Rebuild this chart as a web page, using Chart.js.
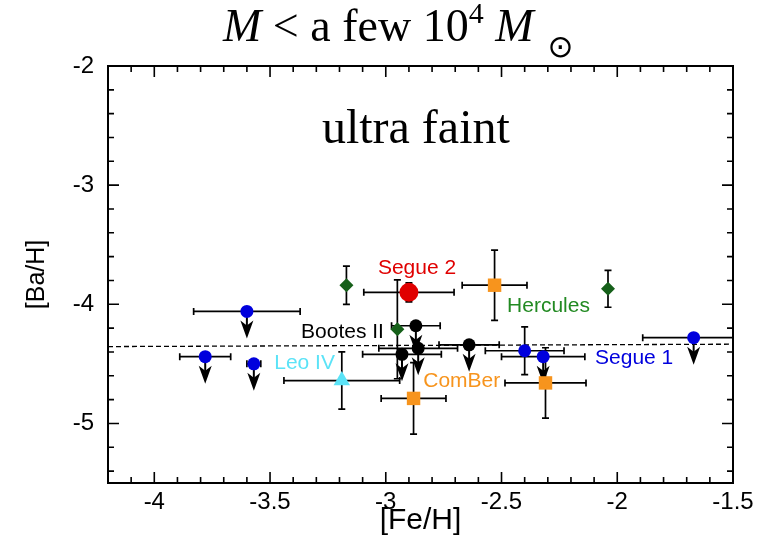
<!DOCTYPE html>
<html lang="en">
<head>
<meta charset="UTF-8">
<title>[Ba/H] vs [Fe/H] - ultra faint</title>
<script src="https://cdn.jsdelivr.net/npm/chart.js@4.4.1/dist/chart.umd.min.js"></script>
<style>
  html, body { margin: 0; padding: 0; background: #fff; }
</style>
</head>
<body>
<canvas id="baChart" width="761" height="541"></canvas>
<script>
// values: [Fe/H], [Ba/H], errors, upper limits
const segue1Fe    = [-3.60, -3.78, -3.57, -2.40, -2.32, -1.67];
const segue1Ba    = [-4.06, -4.44, -4.50, -4.39, -4.44, -4.28];
const segue1FeErr = [0.23, 0.11, 0.03, 0.17, 0.18, 0.22];
const segue1BaErr = [0, 0, 0, 0.20, 0, 0];
const segue1Limit = [true, true, true, false, true, true];

const bootesFe    = [-2.87, -2.86, -2.93, -2.64];
const bootesBa    = [-4.18, -4.37, -4.42, -4.34];
const bootesFeErr = [0.105, 0.17, 0.17, 0.13];
const bootesBaErr = [0, 0, 0, 0];
const bootesLimit = [true, true, true, true];

const segue2Fe    = [-2.90];
const segue2Ba    = [-3.90];
const segue2FeErr = [0.195];
const segue2BaErr = [0.08];
const segue2Limit = [false];

const herculesFe    = [-3.17, -2.04, -2.95];
const herculesBa    = [-3.84, -3.87, -4.21];
const herculesFeErr = [0, 0, 0];
const herculesBaErr = [0.16, 0.155, 0.415];
const herculesLimit = [false, false, false];

const comberFe    = [-2.53, -2.88, -2.31];
const comberBa    = [-3.84, -4.79, -4.66];
const comberFeErr = [0.14, 0.14, 0.175];
const comberBaErr = [0.295, 0.30, 0.295];
const comberLimit = [false, false, false];

const leo4Fe    = [-3.19];
const leo4Ba    = [-4.64];
const leo4FeErr = [0.25];
const leo4BaErr = [0.24];
const leo4Limit = [false];

// dashed reference line (two ends)
const refLineFe = [-4.2, -1.5];
const refLineBa = [-4.355, -4.335];

const xTickValues = [-4, -3.5, -3, -2.5, -2, -1.5];
const xTickLabels = ['-4', '-3.5', '-3', '-2.5', '-2', '-1.5'];
const yTickValues = [-5, -4, -3, -2];
const yTickLabels = ['-5', '-4', '-3', '-2'];

// ---------------------------------------------------------------
const groups = [
  { name: 'Segue 1',   fe: segue1Fe,   ba: segue1Ba,   fx: segue1FeErr,   fy: segue1BaErr,   lim: segue1Limit,
    color: '#0000dd', style: 'circle', r: 6.5 },
  { name: 'Bootes II', fe: bootesFe,   ba: bootesBa,   fx: bootesFeErr,   fy: bootesBaErr,   lim: bootesLimit,
    color: '#000000', style: 'circle', r: 6.5 },
  { name: 'Segue 2',   fe: segue2Fe,   ba: segue2Ba,   fx: segue2FeErr,   fy: segue2BaErr,   lim: segue2Limit,
    color: '#e00000', style: 'circle', r: 9.5 },
  { name: 'Hercules',  fe: herculesFe, ba: herculesBa, fx: herculesFeErr, fy: herculesBaErr, lim: herculesLimit,
    color: '#16601a', style: 'rectRot', r: 7 },
  { name: 'ComBer',    fe: comberFe,   ba: comberBa,   fx: comberFeErr,   fy: comberBaErr,   lim: comberLimit,
    color: '#f7941d', style: 'rect', r: 9.5 },
  { name: 'Leo IV',    fe: leo4Fe,     ba: leo4Ba,     fx: leo4FeErr,     fy: leo4BaErr,     lim: leo4Limit,
    color: '#5be3f7', style: 'triangle', r: 9.5 }
];

// text labels in data coordinates (left edge, vertical middle)
const labels = [
  { text: 'Segue 2',   x: -3.034, y: -3.694, color: '#e00000' },
  { text: 'Hercules',  x: -2.476, y: -4.015, color: '#228a22' },
  { text: 'Bootes II', x: -3.366, y: -4.231, color: '#000000' },
  { text: 'Leo IV',    x: -3.482, y: -4.496, color: '#5be3f7' },
  { text: 'ComBer',    x: -2.838, y: -4.645, color: '#f7941d' },
  { text: 'Segue 1',   x: -2.096, y: -4.454, color: '#0000dd' }
];

const SANS = '"Liberation Sans", Arial, sans-serif';
const SERIF = '"Liberation Serif", "Times New Roman", serif';

const errorBars = {
  id: 'errorBars',
  beforeDatasetsDraw(chart) {
    const { ctx, chartArea: a, scales: { x, y } } = chart;
    ctx.save();
    ctx.beginPath();
    ctx.rect(a.left, a.top, a.right - a.left, a.bottom - a.top);
    ctx.clip();

    // dashed line
    ctx.strokeStyle = '#000';
    ctx.lineWidth = 1.3;
    ctx.setLineDash([5, 3]);
    ctx.beginPath();
    ctx.moveTo(x.getPixelForValue(refLineFe[0]), y.getPixelForValue(refLineBa[0]));
    ctx.lineTo(x.getPixelForValue(refLineFe[1]), y.getPixelForValue(refLineBa[1]));
    ctx.stroke();
    ctx.setLineDash([]);

    ctx.lineWidth = 1.7;
    const cap = 3.5;
    groups.forEach(g => {
      g.fe.forEach((fe, i) => {
        const px = x.getPixelForValue(fe);
        const py = y.getPixelForValue(g.ba[i]);
        if (g.fx[i] > 0) {
          const x0 = x.getPixelForValue(fe - g.fx[i]);
          const x1 = x.getPixelForValue(fe + g.fx[i]);
          ctx.beginPath();
          ctx.moveTo(x0, py); ctx.lineTo(x1, py);
          ctx.moveTo(x0, py - cap); ctx.lineTo(x0, py + cap);
          ctx.moveTo(x1, py - cap); ctx.lineTo(x1, py + cap);
          ctx.stroke();
        }
        if (g.fy[i] > 0) {
          const y0 = y.getPixelForValue(g.ba[i] + g.fy[i]);
          const y1 = y.getPixelForValue(g.ba[i] - g.fy[i]);
          ctx.beginPath();
          ctx.moveTo(px, y0); ctx.lineTo(px, y1);
          ctx.moveTo(px - cap, y0); ctx.lineTo(px + cap, y0);
          ctx.moveTo(px - cap, y1); ctx.lineTo(px + cap, y1);
          ctx.stroke();
        }
        if (g.lim[i]) {
          // upper limit arrow
          ctx.lineWidth = 2;
          ctx.beginPath();
          ctx.moveTo(px, py); ctx.lineTo(px, py + 16);
          ctx.stroke();
          ctx.lineWidth = 1.7;
          ctx.fillStyle = '#000';
          ctx.beginPath();
          ctx.moveTo(px, py + 27);
          ctx.lineTo(px - 6.5, py + 9);
          ctx.lineTo(px, py + 14);
          ctx.lineTo(px + 6.5, py + 9);
          ctx.closePath();
          ctx.fill();
        }
      });
    });
    ctx.restore();
  },
  afterDatasetsDraw(chart) {
    const { ctx, scales: { x, y } } = chart;
    ctx.save();
    ctx.font = '21px ' + SANS;
    ctx.textBaseline = 'middle';
    ctx.textAlign = 'left';
    labels.forEach(l => {
      ctx.fillStyle = l.color;
      ctx.fillText(l.text, x.getPixelForValue(l.x), y.getPixelForValue(l.y));
    });
    ctx.fillStyle = '#000';
    ctx.font = '48px ' + SERIF;
    ctx.textAlign = 'center';
    ctx.textBaseline = 'alphabetic';
    ctx.fillText('ultra faint', x.getPixelForValue(-2.87), y.getPixelForValue(-2.647));
    ctx.restore();
  }
};

const frame = {
  id: 'frame',
  afterDraw(chart) {
    const { ctx, chartArea: a, scales: { x, y } } = chart;
    ctx.save();
    ctx.strokeStyle = '#000';
    ctx.lineWidth = 1.6;
    ctx.beginPath();
    for (let k = -41; k <= -16; k++) {
      const px = x.getPixelForValue(k / 10);
      const len = k % 5 === 0 ? 11 : 6;
      ctx.moveTo(px, a.bottom); ctx.lineTo(px, a.bottom - len);
      ctx.moveTo(px, a.top); ctx.lineTo(px, a.top + len);
    }
    for (let k = -54; k <= -22; k += 2) {
      const py = y.getPixelForValue(k / 10);
      const len = k % 10 === 0 ? 11 : 6;
      ctx.moveTo(a.left, py); ctx.lineTo(a.left + len, py);
      ctx.moveTo(a.right, py); ctx.lineTo(a.right - len, py);
    }
    ctx.stroke();
    ctx.lineWidth = 2;
    ctx.strokeRect(a.left, a.top, a.right - a.left, a.bottom - a.top);

    // title: M < a few 10^4 M_sun
    let tx = 223;
    const base = 41;
    ctx.fillStyle = '#000';
    ctx.textAlign = 'left';
    ctx.textBaseline = 'alphabetic';
    const put = (txt, font, dy) => {
      ctx.font = font;
      ctx.fillText(txt, tx, base + dy);
      tx += ctx.measureText(txt).width;
    };
    put('M', 'italic 46px ' + SERIF, 0);
    put(' < a few 10', '46px ' + SERIF, 0);
    put('4', '30px ' + SERIF, -18);
    put(' ', '46px ' + SERIF, 0);
    put('M', 'italic 46px ' + SERIF, 0);
    tx += 14;
    put('\u2299', '31px "DejaVu Sans", sans-serif', 16);
    ctx.restore();
  }
};

const ctx = document.getElementById('baChart').getContext('2d');
new Chart(ctx, {
  type: 'scatter',
  data: {
    datasets: groups.map(g => ({
      label: g.name,
      data: g.fe.map((v, i) => ({ x: v, y: g.ba[i] })),
      pointStyle: g.style,
      pointRadius: g.r,
      pointHoverRadius: g.r,
      backgroundColor: g.color,
      borderColor: g.color,
      pointBorderWidth: 0
    }))
  },
  plugins: [errorBars, frame],
  options: {
    responsive: false,
    animation: false,
    layout: { padding: { top: 66, right: 28, left: 0, bottom: 0 } },
    plugins: { legend: { display: false }, tooltip: { enabled: false } },
    scales: {
      x: {
        type: 'linear', min: -4.2, max: -1.5,
        grid: { display: false, drawTicks: false }, border: { display: false },
        afterBuildTicks: s => { s.ticks = xTickValues.map(v => ({ value: v })); },
        afterFit: s => { s.height = 58; },
        ticks: {
          callback: (v, i) => xTickLabels[i],
          color: '#000', padding: 5, maxRotation: 0, autoSkip: false,
          font: { family: SANS, size: 24 }
        },
        title: {
          display: true, text: '[Fe/H]', color: '#000',
          font: { family: SANS, size: 30 }, padding: { top: 0, bottom: 2 }
        }
      },
      y: {
        type: 'linear', min: -5.5, max: -2,
        grid: { display: false, drawTicks: false }, border: { display: false },
        afterBuildTicks: s => { s.ticks = yTickValues.map(v => ({ value: v })); },
        afterFit: s => { s.width = 108; },
        ticks: {
          callback: (v, i) => yTickLabels[i],
          color: '#000', padding: 14, autoSkip: false,
          font: { family: SANS, size: 24 }
        },
        title: {
          display: true, text: '[Ba/H]', color: '#000',
          font: { family: SANS, size: 25 }, padding: { top: 22, bottom: 0 }
        }
      }
    }
  }
});
</script>
</body>
</html>
